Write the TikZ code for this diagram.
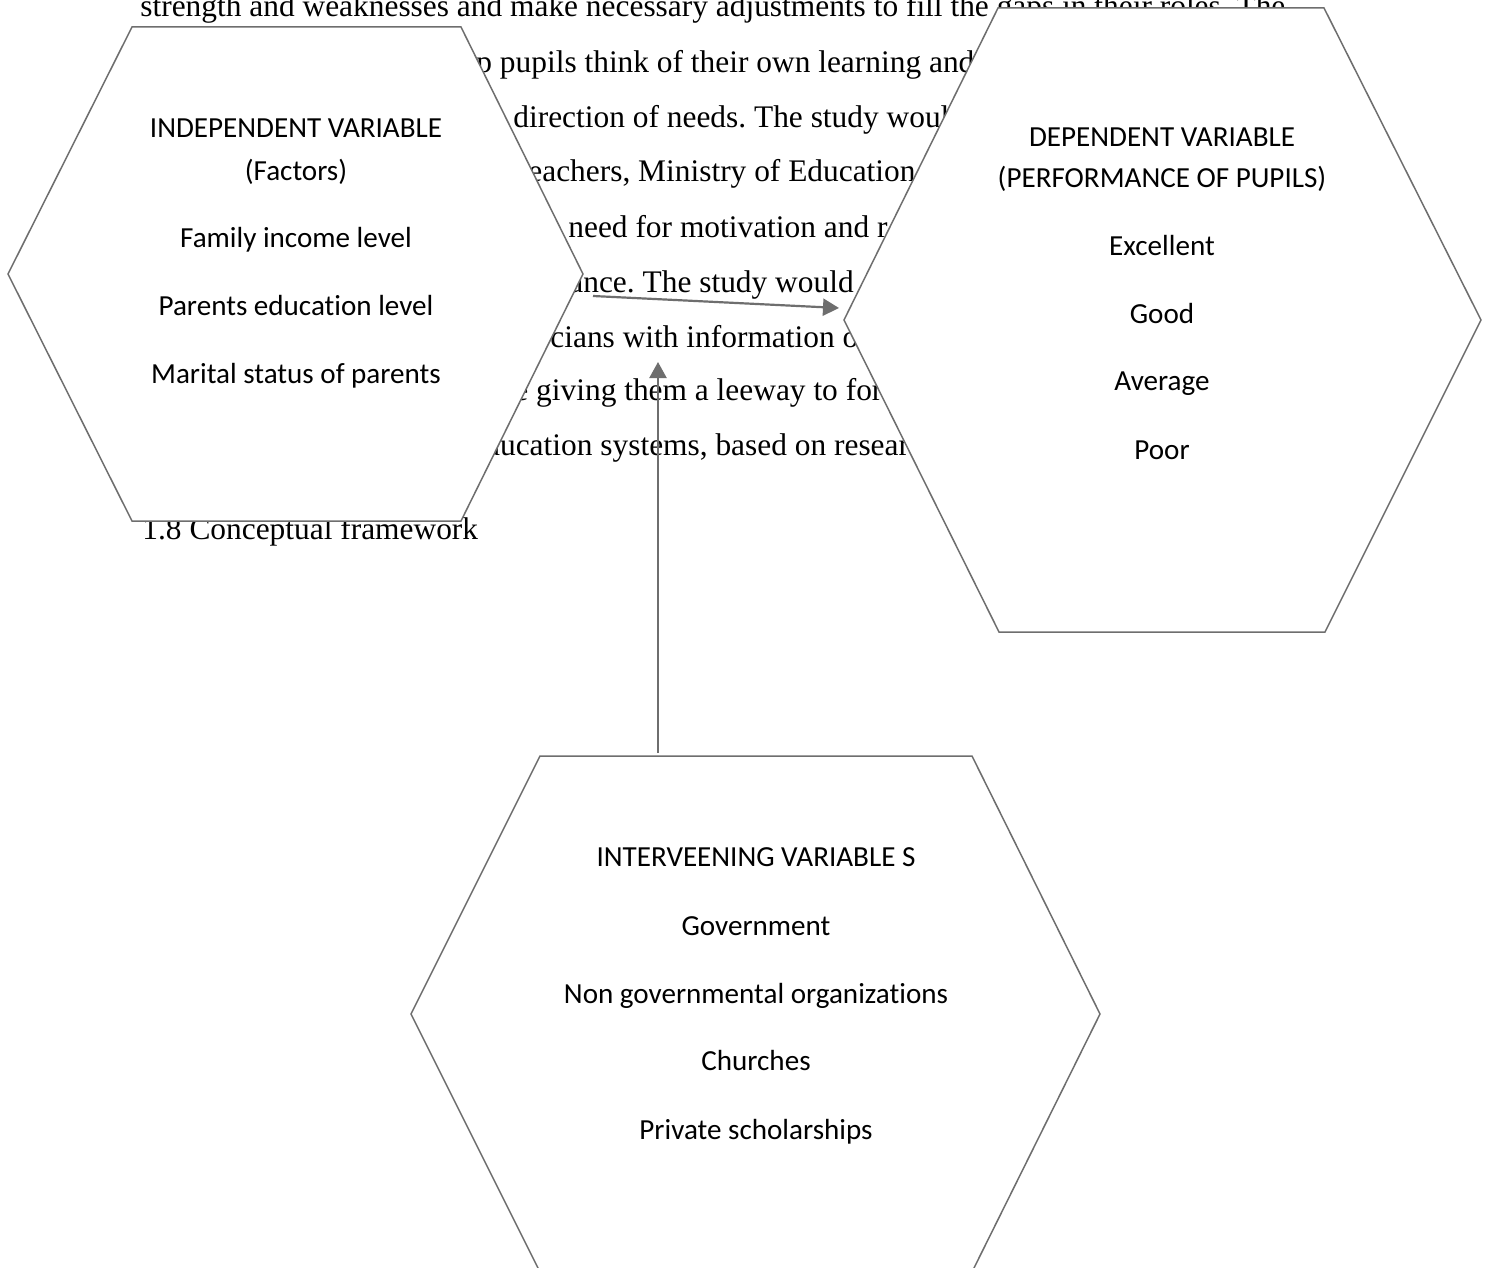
\documentclass[tikz,border=0pt]{standalone}
\usepackage{fontspec}
\setmainfont[Ligatures=NoCommon]{Liberation Serif}
\newfontfamily\calfont[Ligatures=NoCommon]{Carlito}
\usetikzlibrary{arrows.meta}
\definecolor{edgegray}{HTML}{6E6E6E}
\frenchspacing
\begin{document}
\begin{tikzpicture}[x=0.5pt,y=-0.5pt,
  bodytext/.style={anchor=base west,inner sep=0pt,font=\fontsize{15.7}{18}\selectfont},
  hexlabel/.style={anchor=base,inner sep=0pt,font=\calfont\fontsize{14.55}{17}\selectfont},
  hexshape/.style={draw=edgegray,fill=white,line width=0.75pt,line join=miter},
  arr/.style={draw=edgegray,line width=1.1pt,-{Triangle[length=8pt,width=8.5pt]}}]
\useasboundingbox (0,0) rectangle (1489,1268);
\clip (0,0) rectangle (1489,1268);
\fill[white] (0,0) rectangle (1489,1268);

% background document text
\node[bodytext] (t1) at (140,17) {strength and weaknesses and make necessary adjustments to fill the gaps in their roles. The};
\node[bodytext] (t2) at (476,73) {p pupils think of their own learning and};
\node[bodytext] (t3) at (513,128) {direction of needs. The study would};
\node[bodytext] (t4) at (528,182) {eachers, Ministry of Education};
\node[bodytext] (t5) at (568,237) {need for motivation and r};
\node[bodytext] (t6) at (569,292) {ance. The study would};
\node[bodytext] (t7) at (550,347) {cians with information o};
\node[bodytext] (t8) at (514,400) {e giving them a leeway to for};
\node[bodytext] (t9) at (484,455) {ducation systems, based on researc};
\node[bodytext] (t10) at (142,539) {1.8 Conceptual framework};

% hexagons
\path[hexshape] (132,27) -- (461,27) -- (583,274) -- (461,521) -- (132,521) -- (8,274) -- cycle;
\path[hexshape] (998,8) -- (1324,8) -- (1481,320) -- (1325,632) -- (999,632) -- (844,320) -- cycle;
\path[hexshape] (540,756) -- (972,756) -- (1100,1014) -- (972,1272) -- (540,1272) -- (411,1014) -- cycle;

% independent variable labels
\node[hexlabel] (i1) at (296,138) {INDEPENDENT VARIABLE};
\node[hexlabel] (i2) at (296,180) {(Factors)};
\node[hexlabel] (i3) at (296,247) {Family income level};
\node[hexlabel] (i4) at (296,315) {Parents education level};
\node[hexlabel] (i5) at (296,383) {Marital status of parents};

% dependent variable labels
\node[hexlabel] (d1) at (1162,147) {DEPENDENT VARIABLE};
\node[hexlabel] (d2) at (1162,187) {(PERFORMANCE OF PUPILS)};
\node[hexlabel] (d3) at (1162,255) {Excellent};
\node[hexlabel] (d4) at (1162,323) {Good};
\node[hexlabel] (d5) at (1162,390) {Average};
\node[hexlabel] (d6) at (1162,459) {Poor};

% intervening variable labels
\node[hexlabel] (v1) at (756,866) {INTERVEENING VARIABLE S};
\node[hexlabel] (v2) at (756,935) {Government};
\node[hexlabel] (v3) at (756,1003) {Non governmental organizations};
\node[hexlabel] (v4) at (756,1070) {Churches};
\node[hexlabel] (v5) at (756,1139) {Private scholarships};

% connectors
\coordinate (a1s) at (593,296);
\coordinate (a1e) at (839,308);
\coordinate (a2s) at (658,753);
\coordinate (a2e) at (658,362);
\draw[arr] (a1s) -- (a1e);
\draw[arr] (a2s) -- (a2e);
\end{tikzpicture}
\end{document}
